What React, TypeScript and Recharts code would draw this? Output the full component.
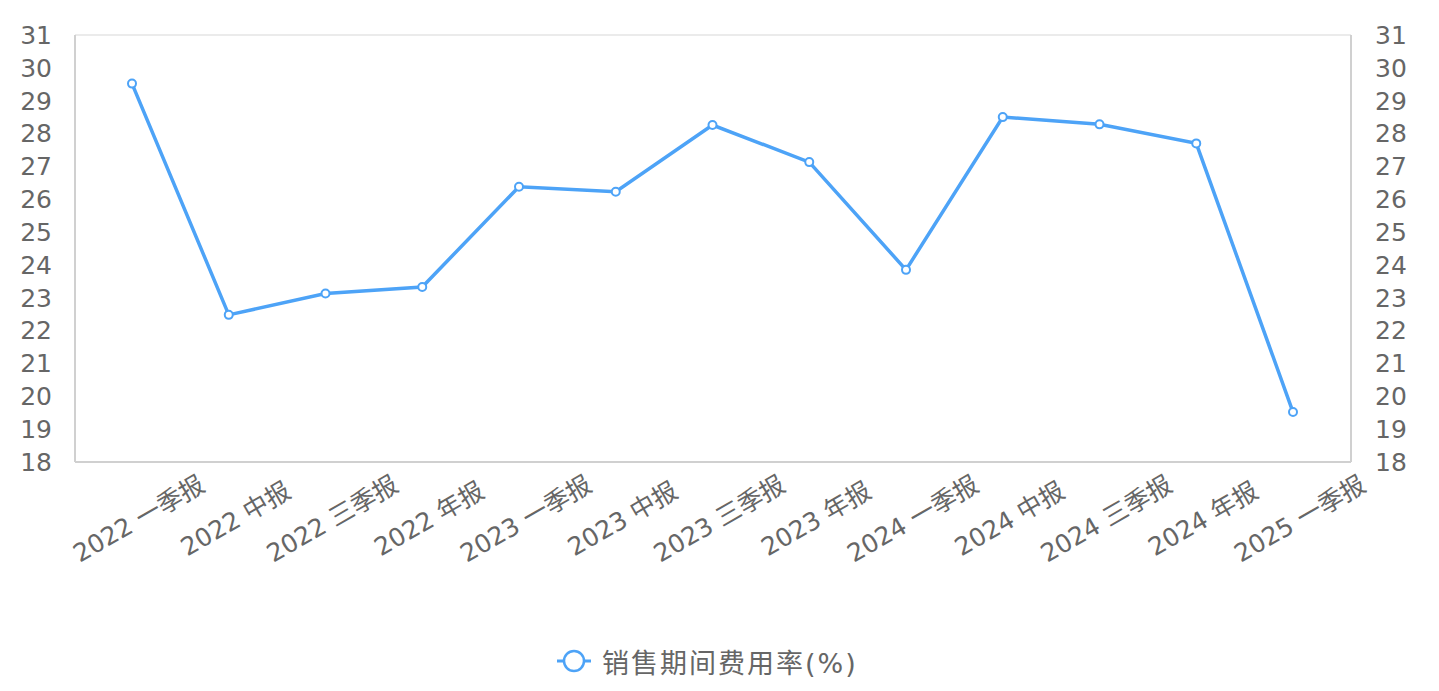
import React from 'react';
import { LineChart, Line, XAxis, YAxis, CartesianGrid, Legend } from 'recharts';

const PERIODS = ['2022 一季报','2022 中报','2022 三季报','2022 年报','2023 一季报','2023 中报','2023 三季报','2023 年报','2024 一季报','2024 中报','2024 三季报','2024 年报','2025 一季报'];
const RATES = [29.52, 22.48, 23.13, 23.33, 26.38, 26.23, 28.26, 27.13, 23.85, 28.5, 28.28, 27.7, 19.52];
const Y_TICKS = [18,19,20,21,22,23,24,25,26,27,28,29,30,31];
const SERIES = '销售期间费用率(%)';

const BLUE = '#4da3f7';
const GREY = '#666666';
const FONT = '"DejaVu Sans", "Noto Sans CJK SC", sans-serif';

const data = PERIODS.map((p, i) => ({ period: p, rate: RATES[i] }));

// rotated label, centred under its tick
function XTick({ x, y, payload }: any) {
  const cx = x + 7;
  const cy = y + 49;
  return (
    <text x={cx} y={cy} textAnchor='middle' dominantBaseline='central' fill={GREY} fontSize={25} fontFamily={FONT}
      transform={`rotate(-30 ${cx} ${cy})`}>
      {payload.value}
    </text>
  );
}

function LegendContent() {
  return (
    <div style={{ display:'flex', alignItems:'center', height:60, paddingLeft:556, fontFamily:FONT, fontSize:27, letterSpacing:2, color:GREY }}>
      <svg width={36} height={28} style={{ marginRight:10 }}>
        <line x1={1} y1={14} x2={35} y2={14} stroke={BLUE} strokeWidth={3} />
        <circle cx={18} cy={14} r={10} fill='#fff' stroke={BLUE} strokeWidth={2.5} />
      </svg>
      <span>{SERIES}</span>
    </div>
  );
}

export default function App() {
  return (
    <div style={{ position:'absolute', left:0, top:0, width:1439, height:691, background:'#fff' }}>
      <LineChart width={1439} height={691} data={data} margin={{ top:35, right:0, left:0, bottom:0 }}>
        <CartesianGrid vertical={false} stroke='#ebebeb' strokeWidth={2} />
        <XAxis dataKey='period' interval={0} tick={<XTick />} tickLine={false} height={169}
          stroke='#d0d0d0' strokeWidth={2} padding={{ left:57, right:58 }} />
        <YAxis yAxisId='l' orientation='left' domain={[18,31]} ticks={Y_TICKS} interval={0} width={75}
          tickLine={false} tickSize={0} tickMargin={23} stroke='#d0d0d0' strokeWidth={2}
          tick={{ fill:GREY, fontSize:25, fontFamily:FONT }} />
        <YAxis yAxisId='r' orientation='right' domain={[18,31]} ticks={Y_TICKS} interval={0} width={88}
          tickLine={false} tickSize={0} tickMargin={24} stroke='#d0d0d0' strokeWidth={2}
          tick={{ fill:GREY, fontSize:25, fontFamily:FONT }} />
        <Legend verticalAlign='bottom' height={60} content={<LegendContent />} />
        <Line yAxisId='l' type='linear' dataKey='rate' name={SERIES} stroke={BLUE} strokeWidth={3.5}
          dot={{ r:4, fill:'#fff', stroke:BLUE, strokeWidth:2 }} isAnimationActive={false} />
        {/* same series bound to the right axis so its ticks render; drawn invisibly */}
        <Line yAxisId='r' type='linear' dataKey='rate' stroke='none' dot={false} activeDot={false}
          legendType='none' isAnimationActive={false} />
      </LineChart>
    </div>
  );
}
